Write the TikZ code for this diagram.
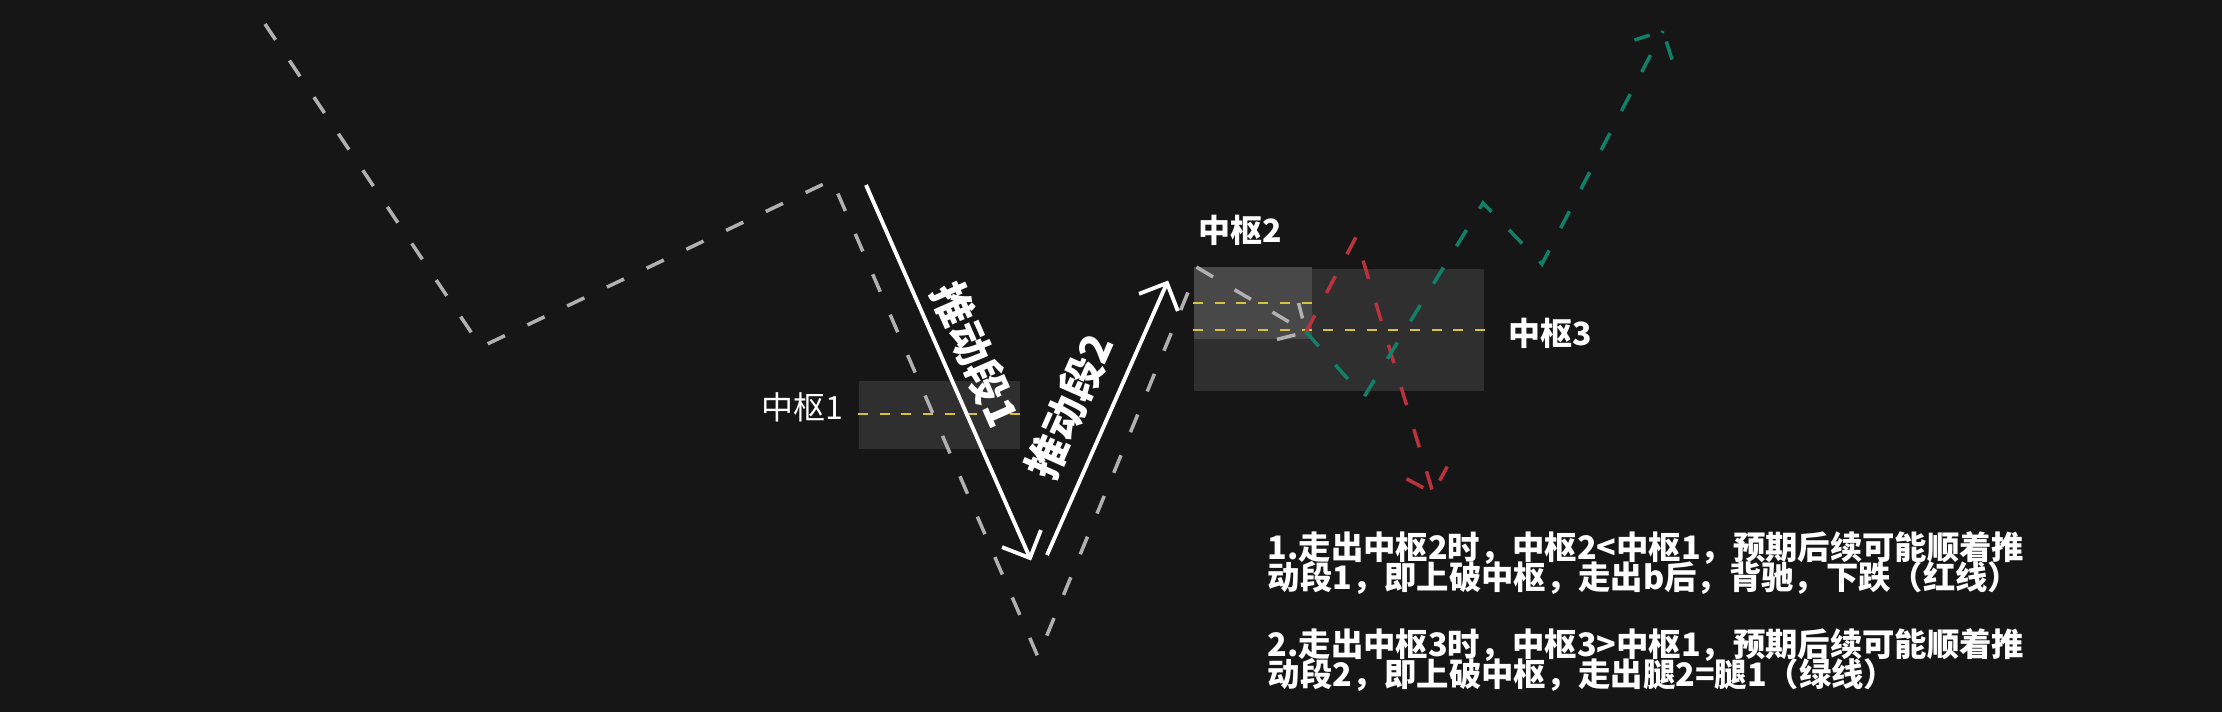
\documentclass[tikz,border=0pt]{standalone}
\usepackage{fontspec}
\setmainfont{Noto Sans CJK SC}
\usetikzlibrary{calc}
\definecolor{bgdark}{HTML}{161616}
\definecolor{boxgray}{HTML}{2F2F2F}
\definecolor{boxlight}{HTML}{484848}
\definecolor{walkgray}{HTML}{B0B0B0}
\definecolor{walkred}{HTML}{BA323E}
\definecolor{walkgreen}{HTML}{108068}
\definecolor{midyellow}{HTML}{D6C23C}
\def\openhead[#1](#2)(#3){\draw[#1] ($(#2)!0.3cm!45:(#3)$) -- (#2) -- ($(#2)!0.3cm!-45:(#3)$);}
\newcommand\notefont{\fontsize{9.2pt}{8.6pt}\selectfont\bfseries\lineskiplimit=-5pt\relax}
\tikzset{
	walk/.style={line width=1pt, dash pattern=on 0.19cm off 0.25cm},
	midline/.style={line width=0.6pt, midyellow, dash pattern=on 0.1cm off 0.117cm},
	push/.style={line width=1.1pt, white},
	zhtext/.style={text=white, inner sep=0pt, font=\fontsize{9.1pt}{9.1pt}\selectfont},
	zhbold/.style={text=white, inner sep=0pt, font=\fontsize{9.1pt}{9.1pt}\selectfont\bfseries},
	pushtext/.style={text=white, inner sep=0pt, font=\fontsize{12pt}{12pt}\selectfont\bfseries},
	note/.style={text=white, inner sep=0pt, align=left, anchor=north west, font=\notefont},
}
\begin{document}
\begin{tikzpicture}
		%%%%% START %%%%%
		
		\fill[bgdark] (0, 0) rectangle (22.22, -7.12);
		
		% zhongshu boxes
		\fill[boxgray] (8.59, -3.81) rectangle (10.20, -4.49);
		\fill[boxgray] (11.94, -2.69) rectangle (14.84, -3.91);
		\fill[boxlight] (11.94, -2.67) rectangle (13.12, -3.39);
		
		\draw[midline] (8.58, -4.14) -- (10.21, -4.14);
		\draw[midline] (11.93, -3.03) -- (13.13, -3.03);
		\draw[midline] (11.93, -3.30) -- (14.85, -3.30);
		
		\coordinate (g0) at (2.65, -0.24);
		\coordinate (g1) at (4.81, -3.47);
		\coordinate (g2) at (8.32, -1.80);
		\coordinate (g3) at (10.38, -6.57);
		\coordinate (g4) at (11.98, -2.68);
		\coordinate (out) at (13.06, -3.32);
		
		\coordinate (r1) at (13.56, -2.37);
		\coordinate (r2) at (14.33, -4.93);
		
		\coordinate (e1) at (13.64, -3.97);
		\coordinate (e2) at (14.83, -2.03);
		\coordinate (e3) at (15.42, -2.64);
		\coordinate (e4) at (16.63, -0.31);
		
		\draw[walk, walkgray] (g0) -- (g1) -- (g2) -- (g3) -- (g4) -- (out);
		\openhead[walk, walkgray](out)(g4)
		
		\draw[walk, walkred] (out) -- (r1) -- (r2);
		\openhead[walk, walkred](r2)(r1)
		
		\draw[walk, walkgreen] (out) -- (e1) -- (e2) -- (e3) -- (e4);
		\openhead[walk, walkgreen](e4)(e3)
		
		% push segments
		\coordinate (p1s) at (8.66, -1.85);
		\coordinate (p1e) at (10.30, -5.58);
		\coordinate (p2s) at (10.47, -5.55);
		\coordinate (p2e) at (11.67, -2.83);
		
		\draw[push] (p1s) -- node[pushtext, sloped, above=0.10cm, pos=0.49] (t1) {推动段1} (p1e);
		\openhead[push](p1e)(p1s)
		\draw[push] (p2s) -- node[pushtext, sloped, above=0.17cm, pos=0.49] (t2) {推动段2} (p2e);
		\openhead[push](p2e)(p2s)
		
		\node[zhtext] (zs1) at (8.02, -4.07) {中枢1};
		\node[zhbold] (zs2) at (12.40, -2.30) {中枢2};
		\node[zhbold] (zs3) at (15.50, -3.33) {中枢3};
		
		\node[note] (n1) at (12.67, -5.31) {1.走出中枢2时，中枢2<中枢1，预期后续可能顺着推\\动段1，即上破中枢，走出b后，背驰，下跌（红线）};
		\node[note] (n2) at (12.67, -6.28) {2.走出中枢3时，中枢3>中枢1，预期后续可能顺着推\\动段2，即上破中枢，走出腿2=腿1（绿线）};
		
		%%%%% END %%%%%
	\end{tikzpicture}
\end{document}
